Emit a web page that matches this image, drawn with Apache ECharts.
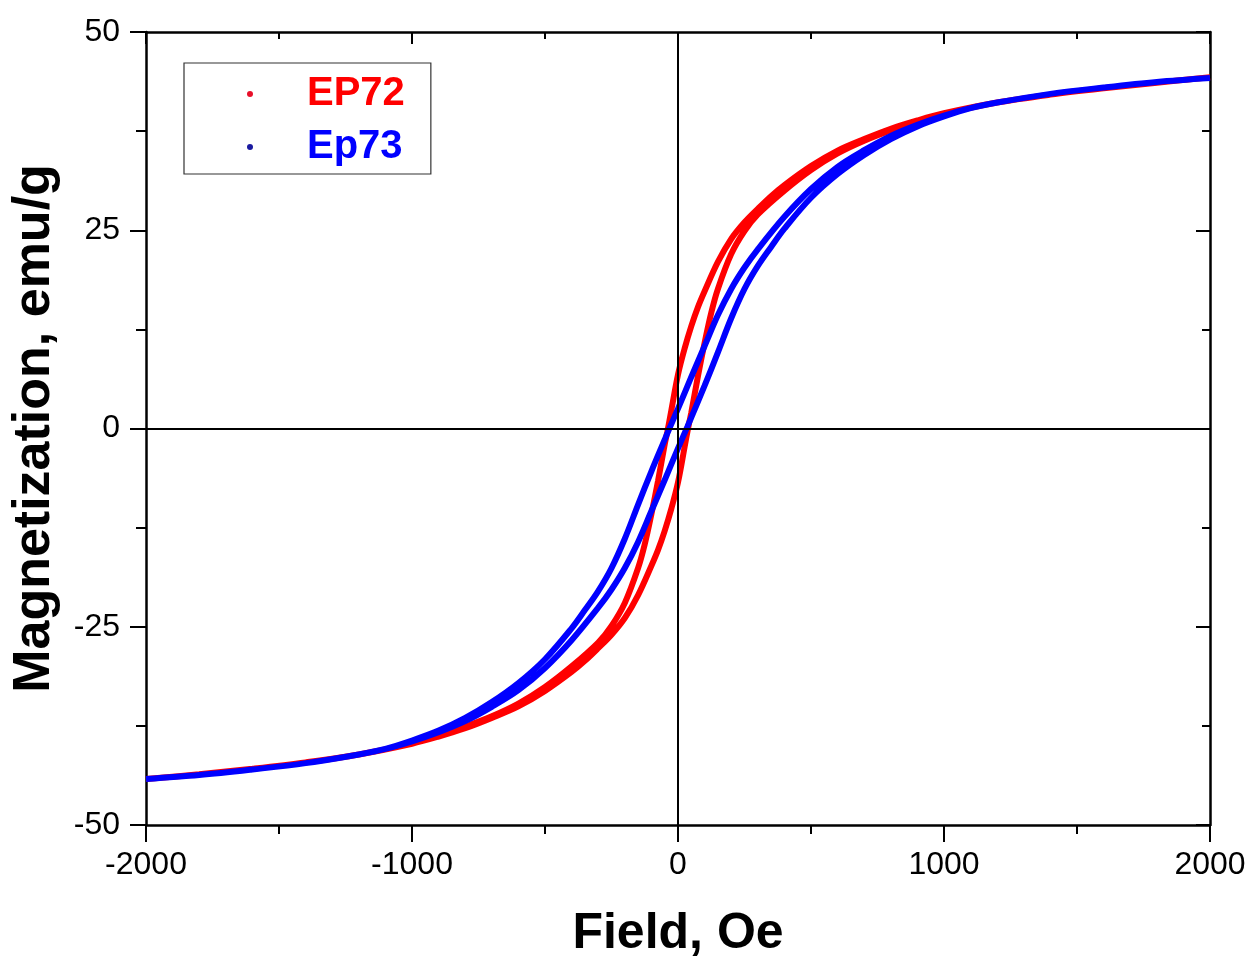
<!DOCTYPE html>
<html>
<head>
<meta charset="utf-8">
<script src="https://cdn.jsdelivr.net/npm/echarts@6/dist/echarts.min.js"></script>
<style>
html,body{margin:0;padding:0;background:#fff;}
#chart{width:1250px;height:956px;}
</style>
</head>
<body>
<div id="chart"></div>
<script>
// Field values (Oe) and magnetization (emu/g)
const seriesNames = ['EP72', 'Ep73'];
const xTicks = [-2000, -1000, 0, 1000, 2000];
const yTicks = [-50, -25, 0, 25, 50];

// EP72 descending branch (+2000 -> -2000)
const ep72FieldDown = [2000,1800,1600,1400,1200,1000,900,800,700,600,500,400,350,300,250,200,150,100,75,50,25,0,-25,-40,-50,-75,-100,-125,-150,-200,-250,-300,-400,-500,-600,-700,-800,-900,-1000,-1200,-1400,-1600,-1800,-2000];
const ep72MagDown = [44.3,43.6,42.9,42.1,41.1,39.75,38.85,37.8,36.5,35.05,33.1,30.7,29.3,27.7,26.0,23.9,21.0,17.3,15.3,12.9,10.1,6.8,2.3,-0.4,-2.0,-6.6,-10.8,-14.6,-17.6,-22.0,-24.9,-27.0,-30.0,-32.6,-34.7,-36.3,-37.6,-38.75,-39.7,-41.1,-42.1,-42.9,-43.6,-44.2];
// EP72 ascending branch (-2000 -> +2000)
const ep72FieldUp = [-2000,-1800,-1600,-1400,-1200,-1000,-900,-800,-700,-600,-500,-400,-350,-300,-250,-200,-150,-100,-75,-50,-25,0,25,40,50,75,100,125,150,200,250,300,400,500,600,700,800,900,1000,1200,1400,1600,1800,2000];
const ep72MagUp = [-44.2,-43.6,-42.9,-42.1,-41.1,-39.75,-38.85,-37.8,-36.5,-35.05,-33.1,-30.7,-29.3,-27.7,-26.0,-23.9,-21.0,-17.3,-15.3,-12.9,-10.1,-6.8,-2.3,0.4,2.0,6.6,10.8,14.6,17.6,22.0,24.9,27.0,30.0,32.6,34.7,36.3,37.6,38.75,39.7,41.1,42.1,42.9,43.6,44.3];

// Ep73 descending branch
const ep73FieldDown = [2000,1800,1600,1400,1200,1100,1000,900,800,700,600,500,400,300,250,200,150,100,50,0,-35,-50,-100,-150,-200,-250,-300,-350,-400,-500,-600,-700,-800,-900,-1000,-1100,-1200,-1400,-1600,-1800,-2000];
const ep73MagDown = [44.2,43.7,43.0,42.2,41.1,40.4,39.45,38.3,36.9,35.1,33.0,30.2,26.7,22.6,20.3,17.6,14.3,10.4,6.5,2.5,-0.2,-1.4,-5.4,-9.6,-13.9,-17.6,-20.5,-22.9,-25.2,-29.1,-32.1,-34.5,-36.5,-38.1,-39.35,-40.4,-41.1,-42.2,-43.0,-43.7,-44.2];
// Ep73 ascending branch
const ep73FieldUp = [-2000,-1800,-1600,-1400,-1200,-1100,-1000,-900,-800,-700,-600,-500,-400,-300,-250,-200,-150,-100,-50,0,35,50,100,150,200,250,300,350,400,500,600,700,800,900,1000,1100,1200,1400,1600,1800,2000];
const ep73MagUp = [-44.2,-43.7,-43.0,-42.2,-41.1,-40.4,-39.45,-38.3,-36.9,-35.1,-33.0,-30.2,-26.7,-22.6,-20.3,-17.6,-14.3,-10.4,-6.5,-2.5,0.2,1.4,5.4,9.6,13.9,17.6,20.5,22.9,25.2,29.1,32.1,34.5,36.5,38.1,39.35,40.4,41.1,42.2,43.0,43.7,44.2];

function pairs(xs, ys) { return xs.map((x, i) => [x, ys[i]]); }

const FONT = "'Liberation Sans', Arial, Helvetica, sans-serif";
const chart = echarts.init(document.getElementById('chart'), null, {renderer: 'canvas'});

const axisLineStyle = {color: '#000', width: 2.5};
const plainNum = v => String(v);
const option = {
  backgroundColor: '#ffffff',
  animation: false,
  grid: {left: 146, right: 40, top: 32, bottom: 131, containLabel: false, outerBoundsMode: 'none'},
  legend: {
    orient: 'vertical',
    left: 184, top: 63,
    padding: [11, 26, 7, 63],
    borderColor: '#333', borderWidth: 1.2,
    icon: 'circle',
    itemWidth: 104, itemHeight: 6,
    itemGap: 13,
    textStyle: {fontFamily: FONT, fontWeight: 'bold', fontSize: 40, lineHeight: 40},
    data: [
      {name: seriesNames[0], textStyle: {color: '#ff0000'}, itemStyle: {color: '#e8102a'}},
      {name: seriesNames[1], textStyle: {color: '#0000ff'}, itemStyle: {color: '#1a1aa0'}}
    ]
  },
  xAxis: [
    {
      type: 'value', position: 'bottom', min: xTicks[0], max: xTicks[xTicks.length-1], interval: 1000,
      axisLine: {show: true, onZero: false, lineStyle: axisLineStyle},
      axisTick: {show: true, inside: false, length: 17, lineStyle: {color: '#000', width: 2}},
      minorTick: {show: true, splitNumber: 2, length: 9, lineStyle: {color: '#000', width: 2}},
      axisLabel: {color: '#000', fontFamily: FONT, fontSize: 32, margin: 24, formatter: plainNum},
      splitLine: {show: false},
      name: 'Field, Oe', nameLocation: 'middle', nameGap: 84,
      nameTextStyle: {color: '#000', fontFamily: FONT, fontWeight: 'bold', fontSize: 50}
    },
    {
      type: 'value', position: 'top', min: xTicks[0], max: xTicks[xTicks.length-1], interval: 1000,
      axisLine: {show: true, onZero: false, lineStyle: axisLineStyle},
      axisTick: {show: true, inside: true, length: 12, lineStyle: {color: '#000', width: 2}},
      minorTick: {show: true, splitNumber: 2, length: 7, lineStyle: {color: '#000', width: 2}},
      axisLabel: {show: false},
      splitLine: {show: false}
    }
  ],
  yAxis: [
    {
      type: 'value', position: 'left', min: yTicks[0], max: yTicks[yTicks.length-1], interval: 25,
      axisLine: {show: true, onZero: false, lineStyle: axisLineStyle},
      axisTick: {show: true, inside: false, length: 16, lineStyle: {color: '#000', width: 2}},
      minorTick: {show: true, splitNumber: 2, length: 10, lineStyle: {color: '#000', width: 2}},
      axisLabel: {color: '#000', fontFamily: FONT, fontSize: 32, margin: 26, formatter: plainNum},
      splitLine: {show: false},
      name: 'Magnetization, emu/g', nameLocation: 'middle', nameGap: 85, nameRotate: 90,
      nameTextStyle: {color: '#000', fontFamily: FONT, fontWeight: 'bold', fontSize: 52}
    },
    {
      type: 'value', position: 'right', min: yTicks[0], max: yTicks[yTicks.length-1], interval: 25,
      axisLine: {show: true, onZero: false, lineStyle: axisLineStyle},
      axisTick: {show: true, inside: true, length: 14, lineStyle: {color: '#000', width: 2}},
      minorTick: {show: true, splitNumber: 2, length: 8, lineStyle: {color: '#000', width: 2}},
      axisLabel: {show: false},
      splitLine: {show: false}
    }
  ],
  series: [
    {
      name: seriesNames[0], type: 'line', xAxisIndex: 0, yAxisIndex: 0,
      data: pairs(ep72FieldDown, ep72MagDown).concat(pairs(ep72FieldUp, ep72MagUp)),
      smooth: 0.35, showSymbol: false, symbol: 'none',
      lineStyle: {color: '#ff0000', width: 6}, itemStyle: {color: '#ff0000'}, z: 2
    },
    {
      name: seriesNames[1], type: 'line', xAxisIndex: 0, yAxisIndex: 0,
      data: pairs(ep73FieldDown, ep73MagDown).concat(pairs(ep73FieldUp, ep73MagUp)),
      smooth: 0.35, showSymbol: false, symbol: 'none',
      lineStyle: {color: '#0000ff', width: 6}, itemStyle: {color: '#0000ff'}, z: 3
    },
    {
      name: 'zero', type: 'line', xAxisIndex: 0, yAxisIndex: 0, data: [], z: 4,
      markLine: {
        silent: true, symbol: ['none', 'none'], animation: false,
        label: {show: false},
        lineStyle: {color: '#000', width: 2, type: 'solid'},
        data: [{xAxis: 0}, {yAxis: 0}]
      }
    }
  ]
};
chart.setOption(option);
</script>
</body>
</html>
